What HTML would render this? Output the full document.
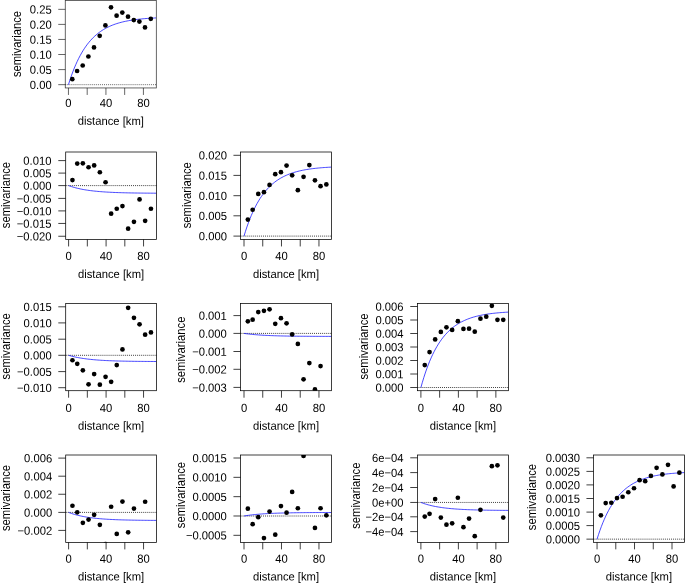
<!DOCTYPE html>
<html><head><meta charset="utf-8"><title>variograms</title>
<style>html,body{margin:0;padding:0;background:#fff;overflow:hidden}svg{display:block;will-change:transform}text{font-family:"Liberation Sans",sans-serif;font-size:11.25px;fill:#000}</style>
</head><body>
<svg width="685" height="584" viewBox="0 0 685 584">
<rect width="685" height="584" fill="#fff"/>
<g>
<clipPath id="c0"><rect x="65.25" y="0.5" width="91.05" height="87.45"/></clipPath>
<line x1="65.25" y1="84.66" x2="156.3" y2="84.66" stroke="#000" stroke-width="0.75" stroke-dasharray="1 1.04" stroke-opacity="0.8"/>
<path d="M68.45 84.66L69.91 80.07L71.38 75.8L72.84 71.81L74.31 68.09L75.77 64.63L77.23 61.4L78.7 58.39L80.16 55.58L81.63 52.96L83.09 50.52L84.56 48.24L86.02 46.12L87.48 44.14L88.95 42.3L90.41 40.58L91.88 38.98L93.34 37.48L94.81 36.09L96.27 34.79L97.73 33.58L99.2 32.45L100.66 31.39L102.13 30.41L103.59 29.5L105.05 28.64L106.52 27.85L107.98 27.11L109.45 26.42L110.91 25.77L112.38 25.17L113.84 24.61L115.3 24.09L116.77 23.6L118.23 23.15L119.7 22.72L121.16 22.33L122.62 21.96L124.09 21.62L125.55 21.3L127.02 21L128.48 20.72L129.95 20.46L131.41 20.22L132.87 19.99L134.34 19.78L135.8 19.59L137.27 19.4L138.73 19.23L140.19 19.08L141.66 18.93L143.12 18.79L144.59 18.66L146.05 18.54L147.51 18.43L148.98 18.32L150.44 18.23L151.91 18.14L153.37 18.05L154.84 17.97L156.3 17.9" fill="none" stroke="#0000ff" stroke-width="0.72" clip-path="url(#c0)"/>
<g clip-path="url(#c0)" fill="#000">
<circle cx="72.3" cy="79.2" r="2.35"/>
<circle cx="77.1" cy="71" r="2.35"/>
<circle cx="82.7" cy="65.5" r="2.35"/>
<circle cx="88.4" cy="56.5" r="2.35"/>
<circle cx="94" cy="47.4" r="2.35"/>
<circle cx="99.7" cy="35.8" r="2.35"/>
<circle cx="105.4" cy="25.4" r="2.35"/>
<circle cx="111" cy="7.3" r="2.35"/>
<circle cx="116.6" cy="15.7" r="2.35"/>
<circle cx="122.3" cy="12.6" r="2.35"/>
<circle cx="128" cy="16.7" r="2.35"/>
<circle cx="133.8" cy="20.1" r="2.35"/>
<circle cx="139.4" cy="21.55" r="2.35"/>
<circle cx="145" cy="27.4" r="2.35"/>
<circle cx="150.8" cy="18.8" r="2.35"/>
</g>
<rect x="65.25" y="0.5" width="91.05" height="87.45" fill="none" stroke="#000" stroke-width="0.75" stroke-opacity="0.8"/>
<path d="M58.25 84.66H65.25M58.25 69.6H65.25M58.25 54.5H65.25M58.25 39.45H65.25M58.25 24.4H65.25M58.25 9.35H65.25M68.45 87.95V94.95M87.19 87.95V94.95M105.93 87.95V94.95M124.67 87.95V94.95M143.41 87.95V94.95" fill="none" stroke="#000" stroke-width="0.75" stroke-opacity="0.8"/>
<text transform="matrix(1 .002 0 1.05 51.7 88.96)" text-anchor="end">0.00</text>
<text transform="matrix(1 .002 0 1.05 51.7 73.9)" text-anchor="end">0.05</text>
<text transform="matrix(1 .002 0 1.05 51.7 58.8)" text-anchor="end">0.10</text>
<text transform="matrix(1 .002 0 1.05 51.7 43.75)" text-anchor="end">0.15</text>
<text transform="matrix(1 .002 0 1.05 51.7 28.7)" text-anchor="end">0.20</text>
<text transform="matrix(1 .002 0 1.05 51.7 13.65)" text-anchor="end">0.25</text>
<text transform="matrix(1 .002 0 1.05 68.45 107)" text-anchor="middle">0</text>
<text transform="matrix(1 .002 0 1.05 105.93 107)" text-anchor="middle">40</text>
<text transform="matrix(1 .002 0 1.05 143.41 107)" text-anchor="middle">80</text>
<text transform="matrix(1 .002 0 1.05 110.78 124.9)" text-anchor="middle">distance [km]</text>
<text transform="translate(21.3 44.02) rotate(-90) scale(1 1.09)" text-anchor="middle">semivariance</text>
</g>
<g>
<clipPath id="c1"><rect x="65.7" y="152" width="90.75" height="87.45"/></clipPath>
<line x1="65.7" y1="185.6" x2="156.45" y2="185.6" stroke="#000" stroke-width="0.75" stroke-dasharray="1 1.04" stroke-opacity="1"/>
<path d="M68.6 185.6L70.06 186.12L71.53 186.61L72.99 187.06L74.46 187.49L75.92 187.88L77.39 188.25L78.85 188.59L80.31 188.91L81.78 189.21L83.24 189.49L84.71 189.75L86.17 189.99L87.63 190.21L89.1 190.42L90.56 190.62L92.03 190.8L93.49 190.97L94.95 191.13L96.42 191.28L97.88 191.42L99.35 191.54L100.81 191.66L102.28 191.78L103.74 191.88L105.2 191.98L106.67 192.07L108.13 192.15L109.6 192.23L111.06 192.3L112.53 192.37L113.99 192.44L115.45 192.5L116.92 192.55L118.38 192.6L119.85 192.65L121.31 192.7L122.77 192.74L124.24 192.78L125.7 192.81L127.17 192.85L128.63 192.88L130.09 192.91L131.56 192.94L133.02 192.96L134.49 192.99L135.95 193.01L137.42 193.03L138.88 193.05L140.34 193.07L141.81 193.08L143.27 193.1L144.74 193.11L146.2 193.13L147.66 193.14L149.13 193.15L150.59 193.16L152.06 193.17L153.52 193.18L154.99 193.19L156.45 193.2" fill="none" stroke="#0000ff" stroke-width="0.72" clip-path="url(#c1)"/>
<g clip-path="url(#c1)" fill="#000">
<circle cx="72.45" cy="180.05" r="2.35"/>
<circle cx="77.25" cy="163.55" r="2.35"/>
<circle cx="82.85" cy="163.35" r="2.35"/>
<circle cx="88.55" cy="167.25" r="2.35"/>
<circle cx="94.15" cy="165.45" r="2.35"/>
<circle cx="99.85" cy="172.25" r="2.35"/>
<circle cx="105.55" cy="182.25" r="2.35"/>
<circle cx="111.15" cy="213.65" r="2.35"/>
<circle cx="116.75" cy="208.75" r="2.35"/>
<circle cx="122.45" cy="206.05" r="2.35"/>
<circle cx="128.15" cy="228.65" r="2.35"/>
<circle cx="133.95" cy="221.85" r="2.35"/>
<circle cx="139.55" cy="199.45" r="2.35"/>
<circle cx="145.15" cy="220.85" r="2.35"/>
<circle cx="150.95" cy="208.75" r="2.35"/>
</g>
<rect x="65.7" y="152" width="90.75" height="87.45" fill="none" stroke="#000" stroke-width="0.75" stroke-opacity="1"/>
<path d="M58.3 160.6H65.7M58.3 173.1H65.7M58.3 185.6H65.7M58.3 198.4H65.7M58.3 210.9H65.7M58.3 223.45H65.7M58.3 236.25H65.7M68.6 239.45V246.45M87.34 239.45V246.45M106.08 239.45V246.45M124.82 239.45V246.45M143.56 239.45V246.45" fill="none" stroke="#000" stroke-width="0.75" stroke-opacity="1"/>
<text transform="matrix(1 .002 0 1.05 51.4 164.9)" text-anchor="end">0.010</text>
<text transform="matrix(1 .002 0 1.05 51.4 177.4)" text-anchor="end">0.005</text>
<text transform="matrix(1 .002 0 1.05 51.4 189.9)" text-anchor="end">0.000</text>
<text transform="matrix(1 .002 0 1.05 51.4 202.7)" text-anchor="end">−0.005</text>
<text transform="matrix(1 .002 0 1.05 51.4 215.2)" text-anchor="end">−0.010</text>
<text transform="matrix(1 .002 0 1.05 51.4 227.75)" text-anchor="end">−0.015</text>
<text transform="matrix(1 .002 0 1.05 51.4 240.55)" text-anchor="end">−0.020</text>
<text transform="matrix(1 .002 0 1.05 68.6 260.1)" text-anchor="middle">0</text>
<text transform="matrix(1 .002 0 1.05 106.08 260.1)" text-anchor="middle">40</text>
<text transform="matrix(1 .002 0 1.05 143.56 260.1)" text-anchor="middle">80</text>
<text transform="matrix(1 .002 0 1.05 111.08 278)" text-anchor="middle">distance [km]</text>
<text transform="translate(10.4 195.03) rotate(-90) scale(1 1.17)" text-anchor="middle">semivariance</text>
</g>
<g>
<clipPath id="c2"><rect x="240.55" y="152" width="90.9" height="87.45"/></clipPath>
<line x1="240.55" y1="236.1" x2="331.45" y2="236.1" stroke="#000" stroke-width="0.75" stroke-dasharray="1 1.04" stroke-opacity="1"/>
<path d="M244 236.1L245.46 231.38L246.91 226.98L248.37 222.87L249.83 219.04L251.29 215.47L252.75 212.14L254.2 209.03L255.66 206.14L257.12 203.43L258.57 200.91L260.03 198.56L261.49 196.37L262.95 194.33L264.41 192.42L265.86 190.64L267.32 188.99L268.78 187.44L270.24 186L271.69 184.65L273.15 183.4L274.61 182.23L276.06 181.14L277.52 180.12L278.98 179.17L280.44 178.28L281.9 177.46L283.35 176.69L284.81 175.97L286.27 175.3L287.73 174.68L289.18 174.1L290.64 173.55L292.1 173.05L293.56 172.57L295.01 172.13L296.47 171.72L297.93 171.34L299.39 170.98L300.84 170.65L302.3 170.34L303.76 170.05L305.22 169.78L306.67 169.52L308.13 169.29L309.59 169.07L311.05 168.87L312.5 168.67L313.96 168.5L315.42 168.33L316.88 168.18L318.33 168.03L319.79 167.9L321.25 167.77L322.71 167.65L324.16 167.55L325.62 167.44L327.08 167.35L328.54 167.26L329.99 167.18L331.45 167.1" fill="none" stroke="#0000ff" stroke-width="0.72" clip-path="url(#c2)"/>
<g clip-path="url(#c2)" fill="#000">
<circle cx="247.85" cy="219.55" r="2.35"/>
<circle cx="252.65" cy="209.75" r="2.35"/>
<circle cx="258.25" cy="193.95" r="2.35"/>
<circle cx="263.95" cy="192.15" r="2.35"/>
<circle cx="269.55" cy="184.95" r="2.35"/>
<circle cx="275.25" cy="174.15" r="2.35"/>
<circle cx="280.95" cy="172.15" r="2.35"/>
<circle cx="286.55" cy="165.55" r="2.35"/>
<circle cx="292.15" cy="175.35" r="2.35"/>
<circle cx="297.85" cy="190.15" r="2.35"/>
<circle cx="303.55" cy="176.85" r="2.35"/>
<circle cx="309.35" cy="165.05" r="2.35"/>
<circle cx="314.95" cy="180.35" r="2.35"/>
<circle cx="320.55" cy="186.15" r="2.35"/>
<circle cx="326.35" cy="184.45" r="2.35"/>
</g>
<rect x="240.55" y="152" width="90.9" height="87.45" fill="none" stroke="#000" stroke-width="0.75" stroke-opacity="1"/>
<path d="M233.45 155.3H240.55M233.45 175.4H240.55M233.45 195.7H240.55M233.45 215.8H240.55M233.45 236.1H240.55M244 239.45V246.45M262.74 239.45V246.45M281.48 239.45V246.45M300.22 239.45V246.45M318.96 239.45V246.45" fill="none" stroke="#000" stroke-width="0.75" stroke-opacity="1"/>
<text transform="matrix(1 .002 0 1.05 226.9 159.6)" text-anchor="end">0.020</text>
<text transform="matrix(1 .002 0 1.05 226.9 179.7)" text-anchor="end">0.015</text>
<text transform="matrix(1 .002 0 1.05 226.9 200)" text-anchor="end">0.010</text>
<text transform="matrix(1 .002 0 1.05 226.9 220.1)" text-anchor="end">0.005</text>
<text transform="matrix(1 .002 0 1.05 226.9 240.4)" text-anchor="end">0.000</text>
<text transform="matrix(1 .002 0 1.05 244 260.1)" text-anchor="middle">0</text>
<text transform="matrix(1 .002 0 1.05 281.48 260.1)" text-anchor="middle">40</text>
<text transform="matrix(1 .002 0 1.05 318.96 260.1)" text-anchor="middle">80</text>
<text transform="matrix(1 .002 0 1.05 286 278)" text-anchor="middle">distance [km]</text>
<text transform="translate(191.1 195.22) rotate(-90) scale(1 1.09)" text-anchor="middle">semivariance</text>
</g>
<g>
<clipPath id="c3"><rect x="65.7" y="303.5" width="90.75" height="87.2"/></clipPath>
<line x1="65.7" y1="355.3" x2="156.45" y2="355.3" stroke="#000" stroke-width="0.75" stroke-dasharray="1 1.04" stroke-opacity="1"/>
<path d="M68.6 355.3L70.06 355.73L71.53 356.12L72.99 356.49L74.46 356.84L75.92 357.16L77.39 357.46L78.85 357.74L80.31 358L81.78 358.24L83.24 358.47L84.71 358.68L86.17 358.88L87.63 359.06L89.1 359.23L90.56 359.39L92.03 359.54L93.49 359.68L94.95 359.81L96.42 359.93L97.88 360.04L99.35 360.15L100.81 360.25L102.28 360.34L103.74 360.42L105.2 360.5L106.67 360.58L108.13 360.64L109.6 360.71L111.06 360.77L112.53 360.82L113.99 360.88L115.45 360.93L116.92 360.97L118.38 361.01L119.85 361.05L121.31 361.09L122.77 361.12L124.24 361.15L125.7 361.18L127.17 361.21L128.63 361.24L130.09 361.26L131.56 361.28L133.02 361.31L134.49 361.33L135.95 361.34L137.42 361.36L138.88 361.38L140.34 361.39L141.81 361.4L143.27 361.42L144.74 361.43L146.2 361.44L147.66 361.45L149.13 361.46L150.59 361.47L152.06 361.48L153.52 361.49L154.99 361.49L156.45 361.5" fill="none" stroke="#0000ff" stroke-width="0.72" clip-path="url(#c3)"/>
<g clip-path="url(#c3)" fill="#000">
<circle cx="72.45" cy="360.25" r="2.35"/>
<circle cx="77.25" cy="363.85" r="2.35"/>
<circle cx="82.85" cy="370.35" r="2.35"/>
<circle cx="88.55" cy="384.35" r="2.35"/>
<circle cx="94.15" cy="374.05" r="2.35"/>
<circle cx="99.85" cy="384.65" r="2.35"/>
<circle cx="105.55" cy="376.85" r="2.35"/>
<circle cx="111.15" cy="381.85" r="2.35"/>
<circle cx="116.75" cy="365.05" r="2.35"/>
<circle cx="122.45" cy="349.45" r="2.35"/>
<circle cx="128.15" cy="307.85" r="2.35"/>
<circle cx="133.95" cy="317.85" r="2.35"/>
<circle cx="139.55" cy="324.35" r="2.35"/>
<circle cx="145.15" cy="334.65" r="2.35"/>
<circle cx="150.95" cy="332.45" r="2.35"/>
</g>
<rect x="65.7" y="303.5" width="90.75" height="87.2" fill="none" stroke="#000" stroke-width="0.75" stroke-opacity="1"/>
<path d="M58.3 306.8H65.7M58.3 322.9H65.7M58.3 339.2H65.7M58.3 355.3H65.7M58.3 371.6H65.7M58.3 387.7H65.7M68.6 390.7V397.7M87.34 390.7V397.7M106.08 390.7V397.7M124.82 390.7V397.7M143.56 390.7V397.7" fill="none" stroke="#000" stroke-width="0.75" stroke-opacity="1"/>
<text transform="matrix(1 .002 0 1.05 51.7 311.1)" text-anchor="end">0.015</text>
<text transform="matrix(1 .002 0 1.05 51.7 327.2)" text-anchor="end">0.010</text>
<text transform="matrix(1 .002 0 1.05 51.7 343.5)" text-anchor="end">0.005</text>
<text transform="matrix(1 .002 0 1.05 51.7 359.6)" text-anchor="end">0.000</text>
<text transform="matrix(1 .002 0 1.05 51.7 375.9)" text-anchor="end">−0.005</text>
<text transform="matrix(1 .002 0 1.05 51.7 392)" text-anchor="end">−0.010</text>
<text transform="matrix(1 .002 0 1.05 68.6 411.9)" text-anchor="middle">0</text>
<text transform="matrix(1 .002 0 1.05 106.08 411.9)" text-anchor="middle">40</text>
<text transform="matrix(1 .002 0 1.05 143.56 411.9)" text-anchor="middle">80</text>
<text transform="matrix(1 .002 0 1.05 111.08 429.8)" text-anchor="middle">distance [km]</text>
<text transform="translate(10 346.35) rotate(-90) scale(1 1.09)" text-anchor="middle">semivariance</text>
</g>
<g>
<clipPath id="c4"><rect x="240.55" y="303.5" width="90.9" height="87.2"/></clipPath>
<line x1="240.55" y1="333.4" x2="331.45" y2="333.4" stroke="#000" stroke-width="0.75" stroke-dasharray="1 1.04" stroke-opacity="1"/>
<path d="M244 333.4L245.46 333.61L246.91 333.8L248.37 333.98L249.83 334.14L251.29 334.3L252.75 334.44L254.2 334.58L255.66 334.7L257.12 334.82L258.57 334.93L260.03 335.03L261.49 335.13L262.95 335.22L264.41 335.3L265.86 335.38L267.32 335.45L268.78 335.52L270.24 335.58L271.69 335.64L273.15 335.69L274.61 335.74L276.06 335.79L277.52 335.83L278.98 335.88L280.44 335.91L281.9 335.95L283.35 335.98L284.81 336.01L286.27 336.04L287.73 336.07L289.18 336.1L290.64 336.12L292.1 336.14L293.56 336.16L295.01 336.18L296.47 336.2L297.93 336.22L299.39 336.23L300.84 336.25L302.3 336.26L303.76 336.27L305.22 336.28L306.67 336.29L308.13 336.3L309.59 336.31L311.05 336.32L312.5 336.33L313.96 336.34L315.42 336.35L316.88 336.35L318.33 336.36L319.79 336.37L321.25 336.37L322.71 336.38L324.16 336.38L325.62 336.39L327.08 336.39L328.54 336.39L329.99 336.4L331.45 336.4" fill="none" stroke="#0000ff" stroke-width="0.72" clip-path="url(#c4)"/>
<g clip-path="url(#c4)" fill="#000">
<circle cx="247.85" cy="321.35" r="2.35"/>
<circle cx="252.65" cy="319.65" r="2.35"/>
<circle cx="258.25" cy="312.05" r="2.35"/>
<circle cx="263.95" cy="310.85" r="2.35"/>
<circle cx="269.55" cy="309.35" r="2.35"/>
<circle cx="275.25" cy="323.85" r="2.35"/>
<circle cx="280.95" cy="318.15" r="2.35"/>
<circle cx="286.55" cy="323.35" r="2.35"/>
<circle cx="292.15" cy="334.45" r="2.35"/>
<circle cx="297.85" cy="343.95" r="2.35"/>
<circle cx="303.55" cy="379.35" r="2.35"/>
<circle cx="309.35" cy="363.05" r="2.35"/>
<circle cx="314.95" cy="389.45" r="2.35"/>
<circle cx="320.55" cy="366.05" r="2.35"/>
</g>
<rect x="240.55" y="303.5" width="90.9" height="87.2" fill="none" stroke="#000" stroke-width="0.75" stroke-opacity="1"/>
<path d="M233.45 315.6H240.55M233.45 333.4H240.55M233.45 351.5H240.55M233.45 369.3H240.55M233.45 387.4H240.55M244 390.7V397.7M262.74 390.7V397.7M281.48 390.7V397.7M300.22 390.7V397.7M318.96 390.7V397.7" fill="none" stroke="#000" stroke-width="0.75" stroke-opacity="1"/>
<text transform="matrix(1 .002 0 1.05 226.8 319.9)" text-anchor="end">0.001</text>
<text transform="matrix(1 .002 0 1.05 226.8 337.7)" text-anchor="end">0.000</text>
<text transform="matrix(1 .002 0 1.05 226.8 355.8)" text-anchor="end">−0.001</text>
<text transform="matrix(1 .002 0 1.05 226.8 373.6)" text-anchor="end">−0.002</text>
<text transform="matrix(1 .002 0 1.05 226.8 391.7)" text-anchor="end">−0.003</text>
<text transform="matrix(1 .002 0 1.05 244 411.9)" text-anchor="middle">0</text>
<text transform="matrix(1 .002 0 1.05 281.48 411.9)" text-anchor="middle">40</text>
<text transform="matrix(1 .002 0 1.05 318.96 411.9)" text-anchor="middle">80</text>
<text transform="matrix(1 .002 0 1.05 286 429.8)" text-anchor="middle">distance [km]</text>
<text transform="translate(185.3 349.7) rotate(-90) scale(1 1.09)" text-anchor="middle">semivariance</text>
</g>
<g>
<clipPath id="c5"><rect x="417.5" y="303.5" width="90.9" height="87.2"/></clipPath>
<line x1="417.5" y1="387.5" x2="508.4" y2="387.5" stroke="#000" stroke-width="0.75" stroke-dasharray="1 1.04" stroke-opacity="1"/>
<path d="M420.9 387.5L422.36 382.34L423.82 377.53L425.27 373.04L426.73 368.85L428.19 364.95L429.65 361.31L431.11 357.91L432.57 354.74L434.02 351.79L435.48 349.04L436.94 346.47L438.4 344.07L439.86 341.84L441.32 339.76L442.77 337.81L444.23 336L445.69 334.31L447.15 332.74L448.61 331.27L450.07 329.9L451.52 328.62L452.98 327.43L454.44 326.31L455.9 325.28L457.36 324.31L458.82 323.41L460.27 322.57L461.73 321.78L463.19 321.05L464.65 320.37L466.11 319.74L467.57 319.14L469.02 318.59L470.48 318.07L471.94 317.59L473.4 317.14L474.86 316.73L476.32 316.34L477.77 315.97L479.23 315.63L480.69 315.32L482.15 315.02L483.61 314.75L485.07 314.49L486.52 314.25L487.98 314.03L489.44 313.82L490.9 313.62L492.36 313.44L493.82 313.27L495.27 313.12L496.73 312.97L498.19 312.83L499.65 312.7L501.11 312.59L502.57 312.47L504.02 312.37L505.48 312.27L506.94 312.18L508.4 312.1" fill="none" stroke="#0000ff" stroke-width="0.72" clip-path="url(#c5)"/>
<g clip-path="url(#c5)" fill="#000">
<circle cx="424.75" cy="365.05" r="2.35"/>
<circle cx="429.55" cy="352.05" r="2.35"/>
<circle cx="435.15" cy="339.45" r="2.35"/>
<circle cx="440.85" cy="331.95" r="2.35"/>
<circle cx="446.45" cy="327.35" r="2.35"/>
<circle cx="452.15" cy="329.95" r="2.35"/>
<circle cx="457.85" cy="321.15" r="2.35"/>
<circle cx="463.45" cy="328.95" r="2.35"/>
<circle cx="469.05" cy="328.65" r="2.35"/>
<circle cx="474.75" cy="331.65" r="2.35"/>
<circle cx="480.45" cy="318.65" r="2.35"/>
<circle cx="486.25" cy="316.65" r="2.35"/>
<circle cx="491.85" cy="305.85" r="2.35"/>
<circle cx="497.45" cy="319.85" r="2.35"/>
<circle cx="503.25" cy="319.85" r="2.35"/>
</g>
<rect x="417.5" y="303.5" width="90.9" height="87.2" fill="none" stroke="#000" stroke-width="0.75" stroke-opacity="1"/>
<path d="M410.25 306.5H417.5M410.25 320H417.5M410.25 333.5H417.5M410.25 347H417.5M410.25 360.5H417.5M410.25 374H417.5M410.25 387.5H417.5M420.9 390.7V397.7M439.64 390.7V397.7M458.38 390.7V397.7M477.12 390.7V397.7M495.86 390.7V397.7" fill="none" stroke="#000" stroke-width="0.75" stroke-opacity="1"/>
<text transform="matrix(1 .002 0 1.05 403.5 310.8)" text-anchor="end">0.006</text>
<text transform="matrix(1 .002 0 1.05 403.5 324.3)" text-anchor="end">0.005</text>
<text transform="matrix(1 .002 0 1.05 403.5 337.8)" text-anchor="end">0.004</text>
<text transform="matrix(1 .002 0 1.05 403.5 351.3)" text-anchor="end">0.003</text>
<text transform="matrix(1 .002 0 1.05 403.5 364.8)" text-anchor="end">0.002</text>
<text transform="matrix(1 .002 0 1.05 403.5 378.3)" text-anchor="end">0.001</text>
<text transform="matrix(1 .002 0 1.05 403.5 391.8)" text-anchor="end">0.000</text>
<text transform="matrix(1 .002 0 1.05 420.9 411.9)" text-anchor="middle">0</text>
<text transform="matrix(1 .002 0 1.05 458.38 411.9)" text-anchor="middle">40</text>
<text transform="matrix(1 .002 0 1.05 495.86 411.9)" text-anchor="middle">80</text>
<text transform="matrix(1 .002 0 1.05 462.95 429.8)" text-anchor="middle">distance [km]</text>
<text transform="translate(368.2 346.5) rotate(-90) scale(1 1.09)" text-anchor="middle">semivariance</text>
</g>
<g>
<clipPath id="c6"><rect x="65.7" y="455" width="90.75" height="87.4"/></clipPath>
<line x1="65.7" y1="512.4" x2="156.45" y2="512.4" stroke="#000" stroke-width="0.75" stroke-dasharray="1 1.04" stroke-opacity="1"/>
<path d="M68.6 512.4L70.06 512.95L71.53 513.46L72.99 513.94L74.46 514.39L75.92 514.8L77.39 515.19L78.85 515.55L80.31 515.89L81.78 516.2L83.24 516.49L84.71 516.76L86.17 517.02L87.63 517.26L89.1 517.48L90.56 517.68L92.03 517.87L93.49 518.05L94.95 518.22L96.42 518.38L97.88 518.52L99.35 518.66L100.81 518.78L102.28 518.9L103.74 519.01L105.2 519.11L106.67 519.21L108.13 519.3L109.6 519.38L111.06 519.46L112.53 519.53L113.99 519.6L115.45 519.66L116.92 519.72L118.38 519.77L119.85 519.82L121.31 519.87L122.77 519.91L124.24 519.95L125.7 519.99L127.17 520.03L128.63 520.06L130.09 520.09L131.56 520.12L133.02 520.15L134.49 520.17L135.95 520.2L137.42 520.22L138.88 520.24L140.34 520.26L141.81 520.28L143.27 520.29L144.74 520.31L146.2 520.32L147.66 520.34L149.13 520.35L150.59 520.36L152.06 520.37L153.52 520.38L154.99 520.39L156.45 520.4" fill="none" stroke="#0000ff" stroke-width="0.72" clip-path="url(#c6)"/>
<g clip-path="url(#c6)" fill="#000">
<circle cx="72.45" cy="505.75" r="2.35"/>
<circle cx="77.25" cy="512.35" r="2.35"/>
<circle cx="82.85" cy="522.85" r="2.35"/>
<circle cx="88.55" cy="519.55" r="2.35"/>
<circle cx="94.15" cy="514.85" r="2.35"/>
<circle cx="99.85" cy="524.85" r="2.35"/>
<circle cx="105.55" cy="544.05" r="2.35"/>
<circle cx="111.15" cy="506.75" r="2.35"/>
<circle cx="116.75" cy="533.95" r="2.35"/>
<circle cx="122.45" cy="501.55" r="2.35"/>
<circle cx="128.15" cy="532.35" r="2.35"/>
<circle cx="133.95" cy="508.55" r="2.35"/>
<circle cx="145.15" cy="501.75" r="2.35"/>
</g>
<rect x="65.7" y="455" width="90.75" height="87.4" fill="none" stroke="#000" stroke-width="0.75" stroke-opacity="1"/>
<path d="M58.3 458.1H65.7M58.3 476.2H65.7M58.3 494.25H65.7M58.3 512.4H65.7M58.3 530.4H65.7M68.6 542.4V549.4M87.34 542.4V549.4M106.08 542.4V549.4M124.82 542.4V549.4M143.56 542.4V549.4" fill="none" stroke="#000" stroke-width="0.75" stroke-opacity="1"/>
<text transform="matrix(1 .002 0 1.05 52.2 462.4)" text-anchor="end">0.006</text>
<text transform="matrix(1 .002 0 1.05 52.2 480.5)" text-anchor="end">0.004</text>
<text transform="matrix(1 .002 0 1.05 52.2 498.55)" text-anchor="end">0.002</text>
<text transform="matrix(1 .002 0 1.05 52.2 516.7)" text-anchor="end">0.000</text>
<text transform="matrix(1 .002 0 1.05 52.2 534.7)" text-anchor="end">−0.002</text>
<text transform="matrix(1 .002 0 1.05 68.6 562.65)" text-anchor="middle">0</text>
<text transform="matrix(1 .002 0 1.05 106.08 562.65)" text-anchor="middle">40</text>
<text transform="matrix(1 .002 0 1.05 143.56 562.65)" text-anchor="middle">80</text>
<text transform="matrix(1 .002 0 1.05 111.08 580.55)" text-anchor="middle">distance [km]</text>
<text transform="translate(10.3 498) rotate(-90) scale(1 1.09)" text-anchor="middle">semivariance</text>
</g>
<g>
<clipPath id="c7"><rect x="240.55" y="455" width="90.9" height="87.4"/></clipPath>
<line x1="240.55" y1="516" x2="331.45" y2="516" stroke="#000" stroke-width="0.75" stroke-dasharray="1 1.04" stroke-opacity="1"/>
<path d="M244 516L245.46 515.76L246.91 515.54L248.37 515.33L249.83 515.13L251.29 514.95L252.75 514.78L254.2 514.63L255.66 514.48L257.12 514.34L258.57 514.22L260.03 514.1L261.49 513.98L262.95 513.88L264.41 513.78L265.86 513.69L267.32 513.61L268.78 513.53L270.24 513.46L271.69 513.39L273.15 513.33L274.61 513.27L276.06 513.21L277.52 513.16L278.98 513.11L280.44 513.07L281.9 513.03L283.35 512.99L284.81 512.95L286.27 512.92L287.73 512.88L289.18 512.85L290.64 512.83L292.1 512.8L293.56 512.78L295.01 512.76L296.47 512.73L297.93 512.71L299.39 512.7L300.84 512.68L302.3 512.66L303.76 512.65L305.22 512.64L306.67 512.62L308.13 512.61L309.59 512.6L311.05 512.59L312.5 512.58L313.96 512.57L315.42 512.56L316.88 512.55L318.33 512.55L319.79 512.54L321.25 512.53L322.71 512.53L324.16 512.52L325.62 512.52L327.08 512.51L328.54 512.51L329.99 512.5L331.45 512.5" fill="none" stroke="#0000ff" stroke-width="0.72" clip-path="url(#c7)"/>
<g clip-path="url(#c7)" fill="#000">
<circle cx="247.85" cy="508.65" r="2.35"/>
<circle cx="252.65" cy="524.2" r="2.35"/>
<circle cx="258.25" cy="517.15" r="2.35"/>
<circle cx="263.95" cy="538.1" r="2.35"/>
<circle cx="269.55" cy="511.55" r="2.35"/>
<circle cx="275.25" cy="534.65" r="2.35"/>
<circle cx="280.95" cy="506.1" r="2.35"/>
<circle cx="286.55" cy="512.65" r="2.35"/>
<circle cx="292.15" cy="491.95" r="2.35"/>
<circle cx="297.85" cy="508.25" r="2.35"/>
<circle cx="303.55" cy="456" r="2.35"/>
<circle cx="314.95" cy="527.9" r="2.35"/>
<circle cx="320.55" cy="508.25" r="2.35"/>
<circle cx="326.35" cy="515.35" r="2.35"/>
</g>
<rect x="240.55" y="455" width="90.9" height="87.4" fill="none" stroke="#000" stroke-width="0.75" stroke-opacity="1"/>
<path d="M233.45 458H240.55M233.45 477.33H240.55M233.45 496.66H240.55M233.45 515.99H240.55M233.45 535.32H240.55M244 542.4V549.4M262.74 542.4V549.4M281.48 542.4V549.4M300.22 542.4V549.4M318.96 542.4V549.4" fill="none" stroke="#000" stroke-width="0.75" stroke-opacity="1"/>
<text transform="matrix(1 .002 0 1.05 226.85 462.3)" text-anchor="end">0.0015</text>
<text transform="matrix(1 .002 0 1.05 226.85 481.63)" text-anchor="end">0.0010</text>
<text transform="matrix(1 .002 0 1.05 226.85 500.96)" text-anchor="end">0.0005</text>
<text transform="matrix(1 .002 0 1.05 226.85 520.29)" text-anchor="end">0.0000</text>
<text transform="matrix(1 .002 0 1.05 226.85 539.62)" text-anchor="end">−0.0005</text>
<text transform="matrix(1 .002 0 1.05 244 562.65)" text-anchor="middle">0</text>
<text transform="matrix(1 .002 0 1.05 281.48 562.65)" text-anchor="middle">40</text>
<text transform="matrix(1 .002 0 1.05 318.96 562.65)" text-anchor="middle">80</text>
<text transform="matrix(1 .002 0 1.05 286 580.55)" text-anchor="middle">distance [km]</text>
<text transform="translate(185.2 495.1) rotate(-90) scale(1 1.09)" text-anchor="middle">semivariance</text>
</g>
<g>
<clipPath id="c8"><rect x="417.5" y="455" width="90.9" height="87.4"/></clipPath>
<line x1="417.5" y1="502.45" x2="508.4" y2="502.45" stroke="#000" stroke-width="0.75" stroke-dasharray="1 1.04" stroke-opacity="1"/>
<path d="M420.9 502.45L422.36 502.99L423.82 503.5L425.27 503.98L426.73 504.42L428.19 504.83L429.65 505.21L431.11 505.57L432.57 505.9L434.02 506.22L435.48 506.51L436.94 506.78L438.4 507.03L439.86 507.26L441.32 507.48L442.77 507.69L444.23 507.88L445.69 508.06L447.15 508.22L448.61 508.38L450.07 508.52L451.52 508.66L452.98 508.78L454.44 508.9L455.9 509.01L457.36 509.11L458.82 509.21L460.27 509.3L461.73 509.38L463.19 509.46L464.65 509.53L466.11 509.59L467.57 509.66L469.02 509.72L470.48 509.77L471.94 509.82L473.4 509.87L474.86 509.91L476.32 509.95L477.77 509.99L479.23 510.03L480.69 510.06L482.15 510.09L483.61 510.12L485.07 510.15L486.52 510.17L487.98 510.2L489.44 510.22L490.9 510.24L492.36 510.26L493.82 510.28L495.27 510.29L496.73 510.31L498.19 510.32L499.65 510.34L501.11 510.35L502.57 510.36L504.02 510.37L505.48 510.38L506.94 510.39L508.4 510.4" fill="none" stroke="#0000ff" stroke-width="0.72" clip-path="url(#c8)"/>
<g clip-path="url(#c8)" fill="#000">
<circle cx="424.75" cy="516.55" r="2.35"/>
<circle cx="429.55" cy="513.85" r="2.35"/>
<circle cx="435.15" cy="499.05" r="2.35"/>
<circle cx="440.85" cy="517.55" r="2.35"/>
<circle cx="446.45" cy="524.65" r="2.35"/>
<circle cx="452.15" cy="523.35" r="2.35"/>
<circle cx="457.85" cy="497.75" r="2.35"/>
<circle cx="463.45" cy="527.15" r="2.35"/>
<circle cx="469.05" cy="518.55" r="2.35"/>
<circle cx="474.75" cy="536.15" r="2.35"/>
<circle cx="480.45" cy="509.85" r="2.35"/>
<circle cx="491.85" cy="466.15" r="2.35"/>
<circle cx="497.45" cy="465.35" r="2.35"/>
<circle cx="503.25" cy="517.55" r="2.35"/>
</g>
<rect x="417.5" y="455" width="90.9" height="87.4" fill="none" stroke="#000" stroke-width="0.75" stroke-opacity="1"/>
<path d="M410.25 457.8H417.5M410.25 472.6H417.5M410.25 487.5H417.5M410.25 502.45H417.5M410.25 516.8H417.5M410.25 531.6H417.5M420.9 542.4V549.4M439.64 542.4V549.4M458.38 542.4V549.4M477.12 542.4V549.4M495.86 542.4V549.4" fill="none" stroke="#000" stroke-width="0.75" stroke-opacity="1"/>
<text transform="matrix(1 .002 0 1.05 403.5 462.1)" text-anchor="end">6e−04</text>
<text transform="matrix(1 .002 0 1.05 403.5 476.9)" text-anchor="end">4e−04</text>
<text transform="matrix(1 .002 0 1.05 403.5 491.8)" text-anchor="end">2e−04</text>
<text transform="matrix(1 .002 0 1.05 403.5 506.75)" text-anchor="end">0e+00</text>
<text transform="matrix(1 .002 0 1.05 403.5 521.1)" text-anchor="end">−2e−04</text>
<text transform="matrix(1 .002 0 1.05 403.5 535.9)" text-anchor="end">−4e−04</text>
<text transform="matrix(1 .002 0 1.05 420.9 562.65)" text-anchor="middle">0</text>
<text transform="matrix(1 .002 0 1.05 458.38 562.65)" text-anchor="middle">40</text>
<text transform="matrix(1 .002 0 1.05 495.86 562.65)" text-anchor="middle">80</text>
<text transform="matrix(1 .002 0 1.05 462.95 580.55)" text-anchor="middle">distance [km]</text>
<text transform="translate(359.7 495.7) rotate(-90) scale(1 1.09)" text-anchor="middle">semivariance</text>
</g>
<g>
<clipPath id="c9"><rect x="593.5" y="455" width="90.9" height="87.35"/></clipPath>
<line x1="593.5" y1="539.15" x2="684.4" y2="539.15" stroke="#000" stroke-width="0.75" stroke-dasharray="1 1.04" stroke-opacity="1"/>
<path d="M597.05 539.15L598.51 534.6L599.96 530.36L601.42 526.4L602.87 522.71L604.33 519.27L605.78 516.06L607.24 513.06L608.7 510.27L610.15 507.67L611.61 505.24L613.06 502.97L614.52 500.86L615.98 498.89L617.43 497.05L618.89 495.33L620.34 493.73L621.8 492.24L623.25 490.85L624.71 489.55L626.17 488.34L627.62 487.21L629.08 486.16L630.53 485.18L631.99 484.26L633.45 483.41L634.9 482.61L636.36 481.87L637.81 481.17L639.27 480.53L640.72 479.92L642.18 479.36L643.64 478.84L645.09 478.35L646.55 477.89L648 477.47L649.46 477.07L650.92 476.7L652.37 476.35L653.83 476.03L655.28 475.73L656.74 475.45L658.19 475.19L659.65 474.94L661.11 474.72L662.56 474.51L664.02 474.31L665.47 474.12L666.93 473.95L668.39 473.79L669.84 473.64L671.3 473.5L672.75 473.37L674.21 473.25L675.66 473.14L677.12 473.03L678.58 472.93L680.03 472.84L681.49 472.75L682.94 472.67L684.4 472.6" fill="none" stroke="#0000ff" stroke-width="0.72" clip-path="url(#c9)"/>
<g clip-path="url(#c9)" fill="#000">
<circle cx="600.9" cy="515.35" r="2.35"/>
<circle cx="605.7" cy="503.05" r="2.35"/>
<circle cx="611.3" cy="502.75" r="2.35"/>
<circle cx="617" cy="498.05" r="2.35"/>
<circle cx="622.6" cy="496.75" r="2.35"/>
<circle cx="628.3" cy="492.25" r="2.35"/>
<circle cx="634" cy="488.25" r="2.35"/>
<circle cx="639.6" cy="480.15" r="2.35"/>
<circle cx="645.2" cy="481.15" r="2.35"/>
<circle cx="650.9" cy="475.95" r="2.35"/>
<circle cx="656.6" cy="467.85" r="2.35"/>
<circle cx="662.4" cy="474.45" r="2.35"/>
<circle cx="668" cy="464.85" r="2.35"/>
<circle cx="673.6" cy="486.45" r="2.35"/>
<circle cx="679.4" cy="472.65" r="2.35"/>
</g>
<rect x="593.5" y="455" width="90.9" height="87.35" fill="none" stroke="#000" stroke-width="0.75" stroke-opacity="1"/>
<path d="M586.45 457.8H593.5M586.45 471.4H593.5M586.45 484.9H593.5M586.45 498.5H593.5M586.45 512.1H593.5M586.45 525.6H593.5M586.45 539.15H593.5M597.05 542.35V549.35M615.79 542.35V549.35M634.53 542.35V549.35M653.27 542.35V549.35M672.01 542.35V549.35" fill="none" stroke="#000" stroke-width="0.75" stroke-opacity="1"/>
<text transform="matrix(1 .002 0 1.05 580 462.1)" text-anchor="end">0.0030</text>
<text transform="matrix(1 .002 0 1.05 580 475.7)" text-anchor="end">0.0025</text>
<text transform="matrix(1 .002 0 1.05 580 489.2)" text-anchor="end">0.0020</text>
<text transform="matrix(1 .002 0 1.05 580 502.8)" text-anchor="end">0.0015</text>
<text transform="matrix(1 .002 0 1.05 580 516.4)" text-anchor="end">0.0010</text>
<text transform="matrix(1 .002 0 1.05 580 529.9)" text-anchor="end">0.0005</text>
<text transform="matrix(1 .002 0 1.05 580 543.45)" text-anchor="end">0.0000</text>
<text transform="matrix(1 .002 0 1.05 597.05 562.65)" text-anchor="middle">0</text>
<text transform="matrix(1 .002 0 1.05 634.53 562.65)" text-anchor="middle">40</text>
<text transform="matrix(1 .002 0 1.05 672.01 562.65)" text-anchor="middle">80</text>
<text transform="matrix(1 .002 0 1.05 638.95 580.55)" text-anchor="middle">distance [km]</text>
<text transform="translate(536.2 497.07) rotate(-90) scale(1 1.09)" text-anchor="middle">semivariance</text>
</g>
</svg>
</body></html>
